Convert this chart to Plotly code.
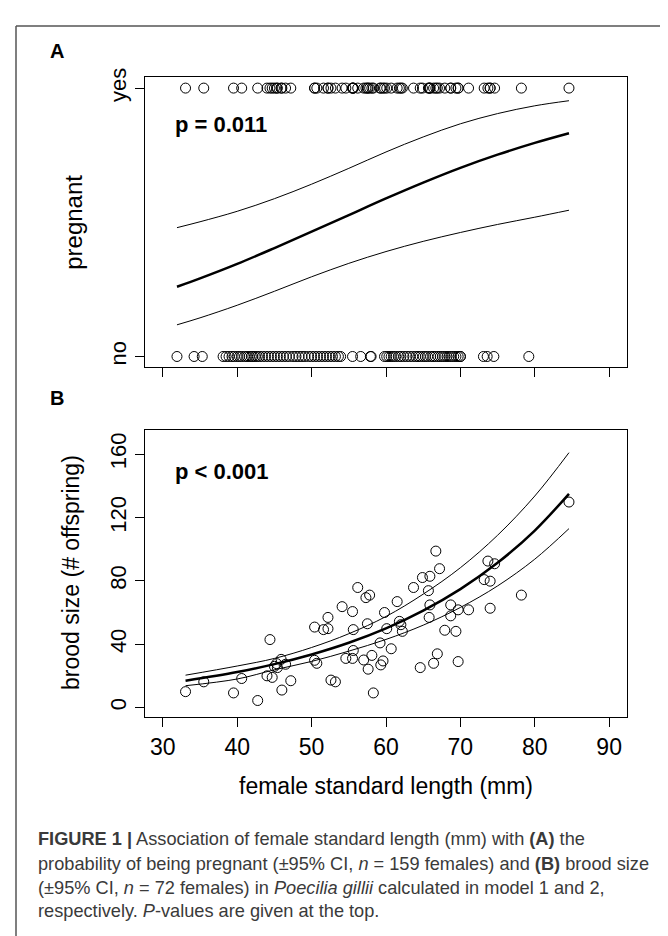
import plotly.graph_objects as go

W, H = 668, 936

# ---------------- data ----------------
# Panel B: brood size vs female standard length (pregnant females, n = 72)
b_length = [33.05, 35.5, 39.5, 40.6, 42.75, 44.4, 44.0, 44.7, 45.3, 45.4, 45.0, 45.9, 46.0, 46.5, 47.2,
            50.4, 50.4, 50.7, 51.6, 52.2, 52.2, 52.6, 53.2, 54.1, 54.6, 55.5, 55.6, 55.5, 55.6, 56.2,
            57.0, 57.3, 57.8, 57.5, 57.6, 58.1, 58.3, 59.2, 59.3, 59.6, 59.8, 60.1, 60.7, 61.5, 61.8,
            62.0, 62.2, 63.7, 64.6, 64.9, 65.7, 65.9, 65.8, 65.9, 66.4, 66.7, 66.9, 67.2, 67.9, 68.7,
            68.7, 69.4, 69.7, 69.7, 71.1, 73.2, 73.7, 74.0, 74.0, 74.6, 78.2, 84.6]
b_brood = [10.0, 16.2, 9.2, 18.3, 4.4, 42.9, 20.0, 19.0, 27.7, 25.2, 26.0, 30.4, 11.0, 27.3, 16.9,
           50.8, 29.8, 27.9, 49.2, 49.8, 56.9, 17.3, 16.2, 63.7, 31.0, 31.0, 36.0, 60.6, 49.2, 75.8,
           30.0, 69.4, 71.0, 52.9, 24.2, 32.9, 9.2, 40.8, 26.9, 29.4, 60.0, 49.8, 37.1, 66.9, 54.4,
           52.3, 48.1, 75.8, 25.2, 82.1, 73.8, 82.9, 56.9, 64.8, 27.9, 98.8, 33.9, 87.7, 48.8, 64.8,
           57.9, 48.1, 29.0, 61.7, 61.7, 80.8, 92.5, 79.8, 62.7, 90.8, 71.0, 129.8]

# Panel A: not pregnant females (n = 87); pregnant females are those of panel B
a_no_length = [31.9, 34.2, 35.3,
               38.1, 38.5, 38.9, 39.3, 39.6, 40.0, 40.3, 40.6, 41.0, 41.3, 41.6, 41.9, 42.1, 42.4,
               42.7, 43.0, 43.4, 43.8, 44.2, 44.6, 45.0,
               45.4, 45.8, 46.2, 46.6, 47.0, 47.5, 47.9, 48.3, 48.7, 49.1, 49.6, 50.0, 50.4, 50.8,
               51.2, 51.6, 52.0, 52.4, 52.8, 53.2, 53.6, 53.9,
               55.5, 56.6, 57.9, 58.0,
               59.8, 60.1, 60.4, 60.7, 61.0, 61.3, 61.7, 62.0, 62.4, 62.8, 63.2, 63.6, 64.0, 64.3,
               64.6, 65.0, 65.3, 65.6, 66.0, 66.3, 66.6, 67.0, 67.3, 67.6, 67.9, 68.2, 68.5, 68.8,
               69.1, 69.4, 69.7, 70.0, 70.0,
               73.1, 73.6, 74.5, 79.2]

# fitted curves
a_fit_x = [31.9, 35, 40, 45, 50, 55, 60, 65, 70, 75, 80, 84.6]
a_fit = [0.260, 0.291, 0.345, 0.404, 0.465, 0.527, 0.589, 0.648, 0.703, 0.752, 0.796, 0.832]
a_upper = [0.480, 0.502, 0.541, 0.588, 0.642, 0.701, 0.762, 0.818, 0.867, 0.905, 0.934, 0.953]
a_lower = [0.118, 0.144, 0.191, 0.243, 0.297, 0.347, 0.391, 0.429, 0.462, 0.492, 0.519, 0.545]

b_fit_x = [33.05, 40, 45, 50, 55, 60, 65, 70, 75, 80, 84.6]
b_fit = [16.9, 22.4, 27.4, 33.5, 40.9, 50.0, 61.2, 74.8, 91.4, 111.8, 135.0]
b_upper = [20.4, 26.2, 31.0, 37.9, 46.6, 57.5, 71.6, 88.3, 108.8, 133.6, 161.0]
b_lower = [13.75, 18.0, 23.8, 29.1, 35.6, 43.0, 52.0, 63.2, 76.8, 93.7, 113.0]

x_ticks = [30, 40, 50, 60, 70, 80, 90]
b_y_ticks = [0, 40, 80, 120, 160]
a_y_ticks = [0, 1]
a_y_labels = ["no", "yes"]

# ---------------- layout helpers ----------------
def px(x):
    return x / W

def py(y):
    return 1 - y / H

FONT = "Liberation Sans, Arial, sans-serif"

fig = go.Figure()

mk = dict(symbol="circle-open", size=10, color="black", line=dict(width=1, color="black"))

# Panel A
fig.add_trace(go.Scatter(x=b_length, y=[1] * len(b_length), mode="markers", marker=mk,
                         xaxis="x", yaxis="y", showlegend=False, hoverinfo="skip"))
fig.add_trace(go.Scatter(x=a_no_length, y=[0] * len(a_no_length), mode="markers", marker=mk,
                         xaxis="x", yaxis="y", showlegend=False, hoverinfo="skip"))
for ys, w in ((a_upper, 1), (a_lower, 1), (a_fit, 2.5)):
    fig.add_trace(go.Scatter(x=a_fit_x, y=ys, mode="lines", line=dict(color="black", width=w, shape="spline"),
                             xaxis="x", yaxis="y", showlegend=False, hoverinfo="skip"))

# Panel B
fig.add_trace(go.Scatter(x=b_length, y=b_brood, mode="markers", marker=mk,
                         xaxis="x2", yaxis="y2", showlegend=False, hoverinfo="skip"))
for ys, w in ((b_upper, 1), (b_lower, 1), (b_fit, 2.5)):
    fig.add_trace(go.Scatter(x=b_fit_x, y=ys, mode="lines", line=dict(color="black", width=w, shape="spline"),
                             xaxis="x2", yaxis="y2", showlegend=False, hoverinfo="skip"))

x_left, x_right = 137, 619
a_top, a_bot = 60, 353
b_top, b_bot = 416, 707

axis_common = dict(showline=True, linecolor="black", linewidth=1, mirror=True,
                   ticks="outside", ticklen=9, tickwidth=1, tickcolor="black",
                   showgrid=False, zeroline=False, color="black")

fig.update_layout(
    width=W, height=H,
    margin=dict(l=0, r=0, t=0, b=0),
    paper_bgcolor="white", plot_bgcolor="white",
    font=dict(family=FONT, color="black"),
    xaxis=dict(domain=[px(x_left), px(x_right)], range=[27.6, 92.4], anchor="y",
               tickvals=x_ticks, showticklabels=False, **axis_common),
    yaxis=dict(domain=[py(a_bot), py(a_top)], range=[-0.04, 1.04], anchor="x",
               tickvals=a_y_ticks, ticktext=a_y_labels, tickangle=-90,
               tickfont=dict(size=22, family=FONT), **axis_common),
    xaxis2=dict(domain=[px(x_left), px(x_right)], range=[27.6, 92.4], anchor="y2",
                tickvals=x_ticks, tickfont=dict(size=23, family=FONT), **axis_common),
    yaxis2=dict(domain=[py(b_bot), py(b_top)], range=[-6.3, 175.6], anchor="x2",
                tickvals=b_y_ticks, tickangle=-90,
                tickfont=dict(size=22, family=FONT), **axis_common),
)

ann = []
def text(x, y, s, size, xanchor="center", yanchor="middle", angle=0, color="black", family=FONT):
    ann.append(dict(x=px(x), y=py(y), xref="paper", yref="paper", text=s, showarrow=False,
                    xanchor=xanchor, yanchor=yanchor, textangle=angle,
                    font=dict(size=size, family=family, color=color)))

text(40, 33, "<b>A</b>", 20, xanchor="left")
text(40, 384, "<b>B</b>", 20, xanchor="left")
text(165, 108, "<b>p = 0.011</b>", 22, xanchor="left")
text(165, 458, "<b>p &lt; 0.001</b>", 22, xanchor="left")
text(66, 207, "pregnant", 24, angle=-90)
text(63, 560, "brood size (# offspring)", 23, angle=-90)
text(378, 776, "female standard length (mm)", 23)

cap_color = "#3a3a3a"
CAP = 18.2
text(28, 830, "<b>FIGURE 1 |</b> Association of female standard length (mm) with <b>(A)</b> the", CAP,
     xanchor="left", color=cap_color)
text(28, 855, "probability of being pregnant (±95% CI, <i>n</i> = 159 females) and <b>(B)</b> brood size", CAP,
     xanchor="left", color=cap_color)
text(28, 879, "(±95% CI, <i>n</i> = 72 females) in <i>Poecilia gillii</i> calculated in model 1 and 2,", CAP,
     xanchor="left", color=cap_color)
text(28, 903, "respectively. <i>P</i>-values are given at the top.", CAP,
     xanchor="left", color=cap_color)

fig.update_layout(annotations=ann)

# figure frame (top and left border)
frame = dict(color="#555555", width=1.5)
fig.add_shape(type="line", xref="paper", yref="paper", x0=px(8), y0=py(8), x1=1.05, y1=py(8), line=frame)
fig.add_shape(type="line", xref="paper", yref="paper", x0=px(8), y0=py(8), x1=px(8), y1=-0.05, line=frame)

fig.write_html("out.html")
